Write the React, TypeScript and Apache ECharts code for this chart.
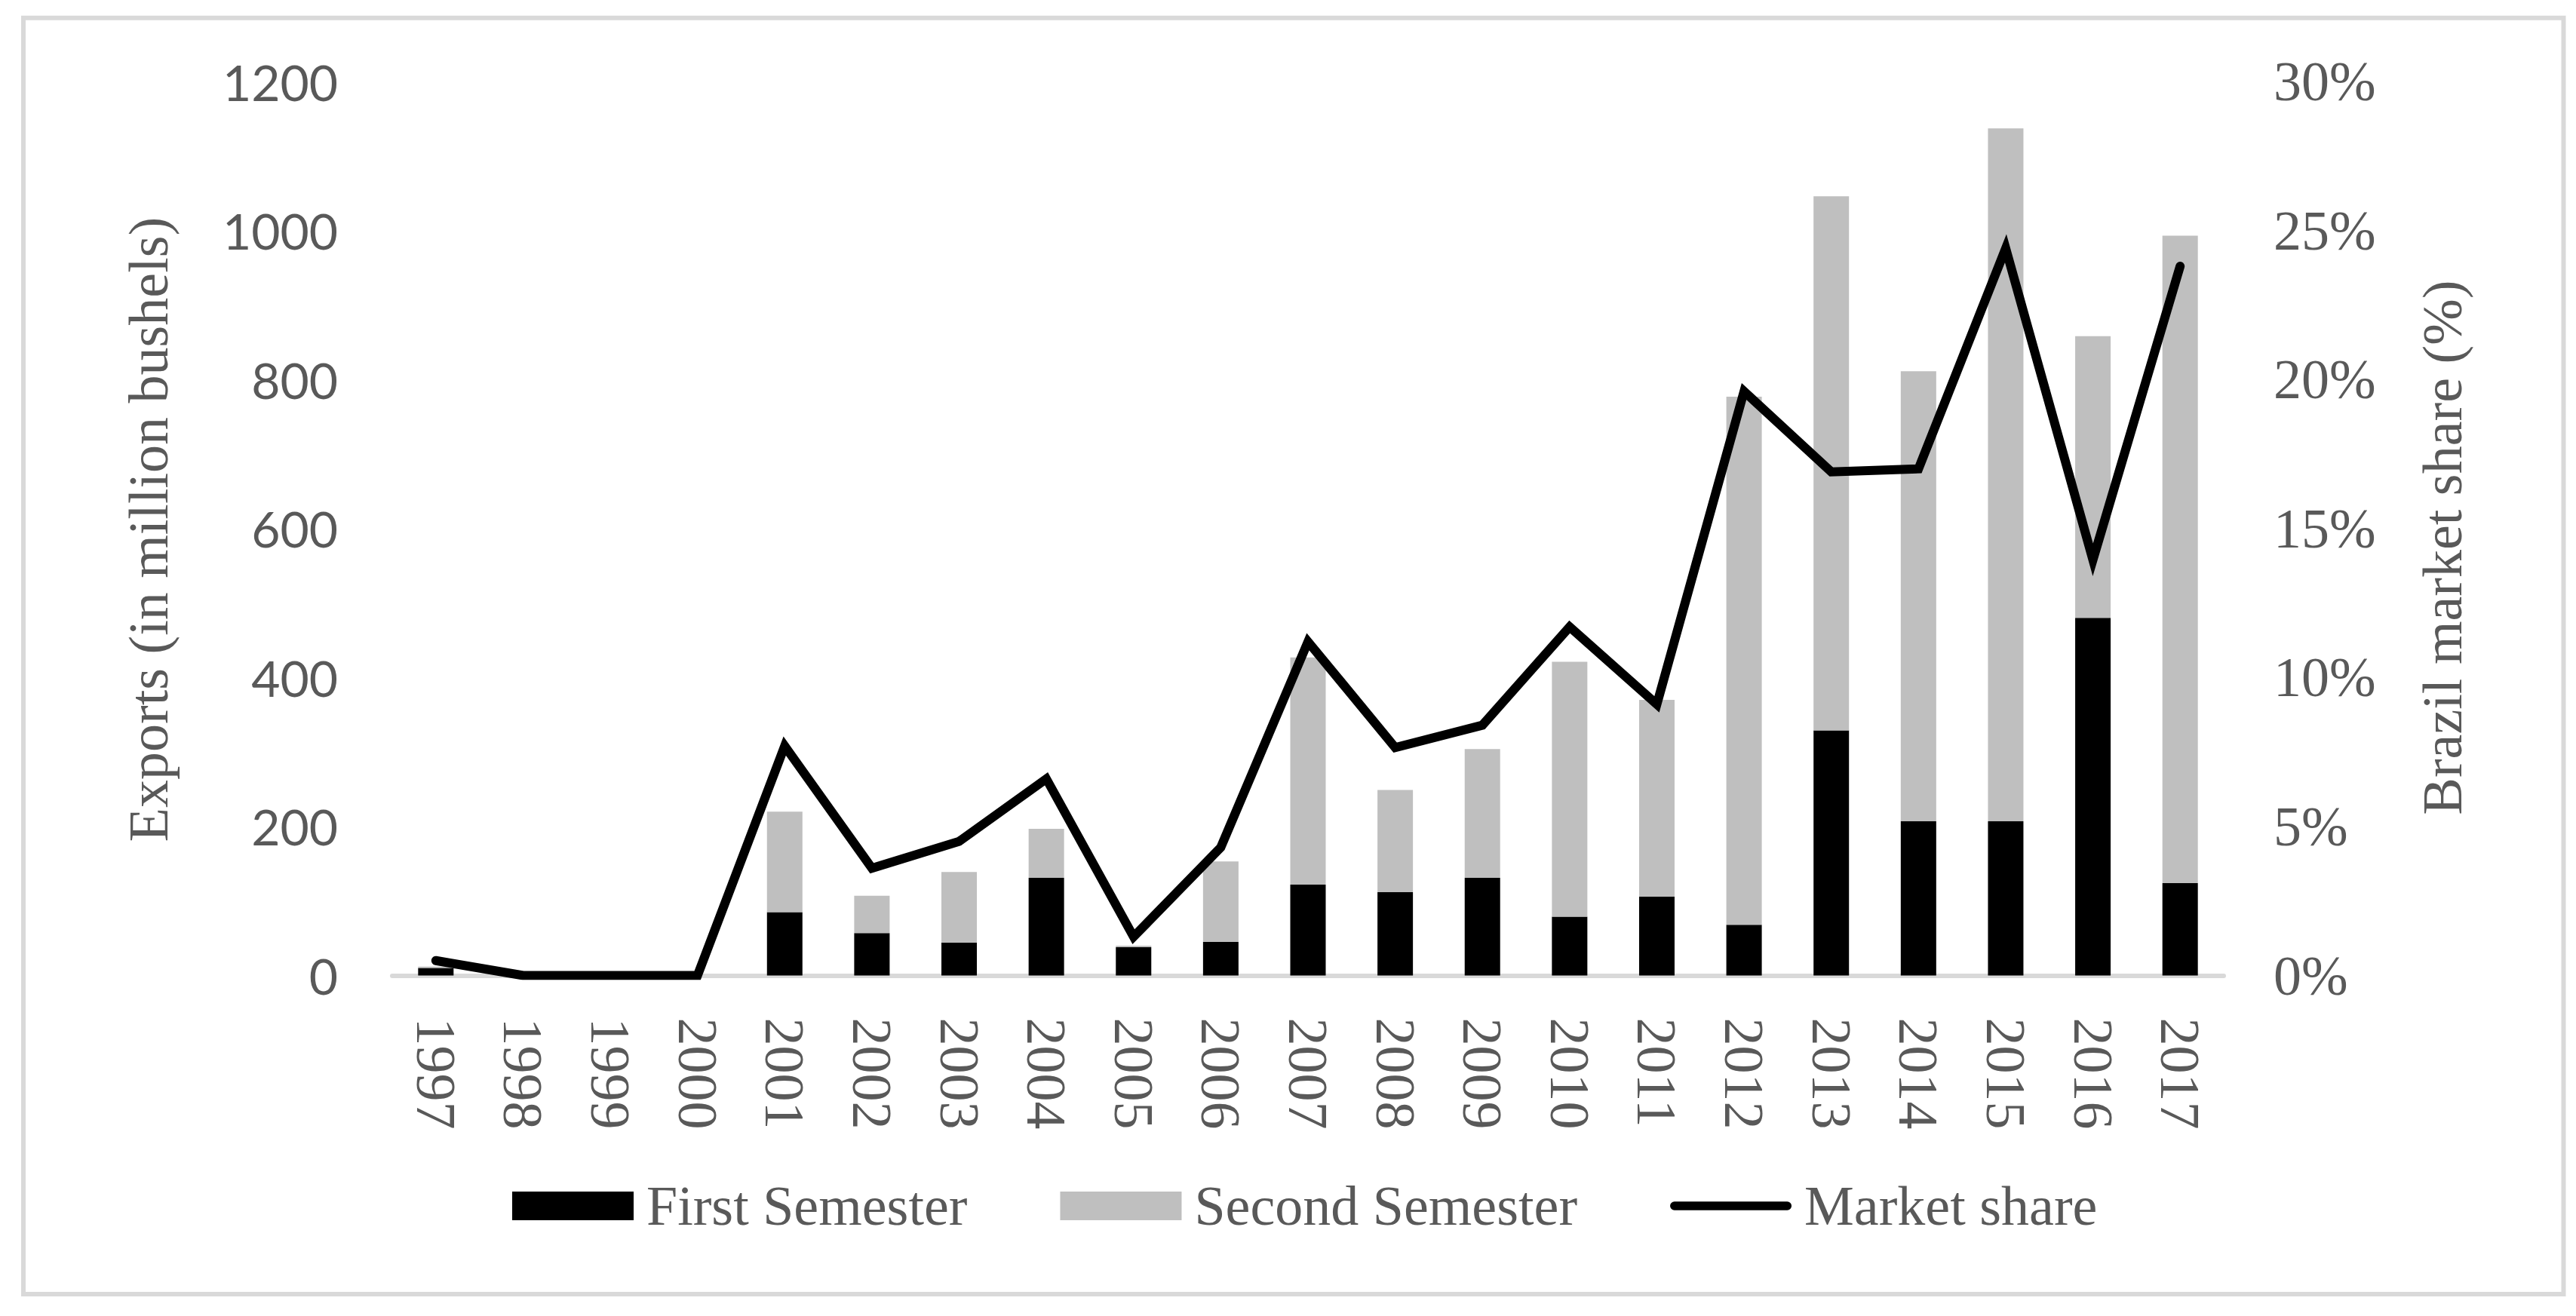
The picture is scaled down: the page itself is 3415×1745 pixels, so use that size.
import React, { useEffect, useRef } from "react";
import * as echarts from "echarts";

const years = [
  "1997", "1998", "1999", "2000", "2001", "2002", "2003", "2004", "2005", "2006", "2007",
  "2008", "2009", "2010", "2011", "2012", "2013", "2014", "2015", "2016", "2017",
];
// Exports in million bushels
const firstSemester = [10, 0, 0, 0, 85, 57, 44, 131, 38, 45, 122, 112, 131, 79, 106, 68, 329, 207, 207, 480, 124];
const secondSemester = [2, 0, 0, 0, 135, 50, 95, 66, 2, 108, 305, 137, 173, 342, 264, 709, 717, 604, 930, 378, 869];
// Brazil market share (%)
const marketShare = [0.5, 0, 0, 0, 7.7, 3.6, 4.5, 6.6, 1.3, 4.3, 11.2, 7.65, 8.4, 11.7, 9.1, 19.6, 16.9, 17.0, 24.4, 13.95, 23.8];

const seriesNames = ["First Semester", "Second Semester", "Market share"];
const leftTitle = "Exports (in million bushels)";
const rightTitle = "Brazil market share (%)";

const GRAY_TEXT = "#595959";
const SERIF = "'Liberation Serif', 'Times New Roman', serif";
// thick line with rounded ends, padded vertically so it keeps its thickness in the legend box
const LINE_ICON =
  "path://M6,13 L164,13 A6,6 0 0 1 164,25 L6,25 A6,6 0 0 1 6,13 Z M0,0 L0.01,0 L0,0.01 Z M170,38 L169.99,38 L170,37.99 Z";

export default function App() {
  const ref = useRef<HTMLDivElement>(null);

  useEffect(() => {
    document.body.style.margin = "0";
    const chart = echarts.init(ref.current!, null, { renderer: "svg" });
    chart.setOption({
      animation: false,
      backgroundColor: "#ffffff",
      grid: { left: 520, right: 467, top: 108, bottom: 451.5, containLabel: false },
      xAxis: {
        type: "category",
        data: years,
        axisLine: { show: true, lineStyle: { color: "#d9d9d9", width: 6 } },
        axisTick: { show: false },
        axisLabel: {
          interval: 0,
          rotate: -90,
          margin: 56,
          color: GRAY_TEXT,
          fontFamily: SERIF,
          fontSize: 74,
        },
      },
      yAxis: [
        {
          type: "value",
          min: 0,
          max: 1200,
          interval: 200,
          splitLine: { show: false },
          axisLine: { show: false },
          axisTick: { show: false },
          axisLabel: {
            margin: 72,
            formatter: (v: number) => String(v),
            color: GRAY_TEXT,
            fontFamily: "Lato",
            fontSize: 66,
          },
        },
        {
          type: "value",
          min: 0,
          max: 30,
          interval: 5,
          position: "right",
          splitLine: { show: false },
          axisLine: { show: false },
          axisTick: { show: false },
          axisLabel: {
            margin: 66,
            formatter: "{value}%",
            color: GRAY_TEXT,
            fontFamily: SERIF,
            fontSize: 74,
          },
        },
      ],
      legend: {
        left: 674,
        top: 1557,
        itemWidth: 161,
        itemHeight: 38,
        itemGap: 123,
        data: [
          { name: seriesNames[0], icon: "rect" },
          { name: seriesNames[1], icon: "rect" },
          { name: seriesNames[2], icon: LINE_ICON, itemStyle: { color: "#000000" } },
        ],
        textStyle: {
          color: GRAY_TEXT,
          fontFamily: SERIF,
          fontSize: 74,
          padding: [0, 0, 0, 12],
        },
      },
      series: [
        {
          name: seriesNames[0],
          type: "bar",
          stack: "exports",
          data: firstSemester,
          barWidth: 47,
          itemStyle: { color: "#000000" },
        },
        {
          name: seriesNames[1],
          type: "bar",
          stack: "exports",
          data: secondSemester,
          barWidth: 47,
          itemStyle: { color: "#bfbfbf" },
        },
        {
          name: seriesNames[2],
          type: "line",
          yAxisIndex: 1,
          data: marketShare,
          symbol: "none",
          z: 5,
          itemStyle: { color: "#000000" },
          lineStyle: { color: "#000000", width: 12, cap: "round", join: "miter" },
        },
      ],
      graphic: [
        {
          type: "rect",
          silent: true,
          z: -10,
          shape: { x: 31, y: 23.7, width: 3367.5, height: 1692.3 },
          style: { fill: "none", stroke: "#d9d9d9", lineWidth: 6 },
        },
        {
          type: "text",
          x: 197,
          y: 702,
          rotation: Math.PI / 2,
          style: {
            text: leftTitle,
            fill: GRAY_TEXT,
            fontFamily: SERIF,
            fontSize: 74,
            align: "center",
            verticalAlign: "middle",
          },
        },
        {
          type: "text",
          x: 3238,
          y: 726,
          rotation: Math.PI / 2,
          style: {
            text: rightTitle,
            fill: GRAY_TEXT,
            fontFamily: SERIF,
            fontSize: 74,
            align: "center",
            verticalAlign: "middle",
          },
        },
      ],
    });
    return () => chart.dispose();
  }, []);

  return <div ref={ref} style={{ width: 3415, height: 1745 }} />;
}
